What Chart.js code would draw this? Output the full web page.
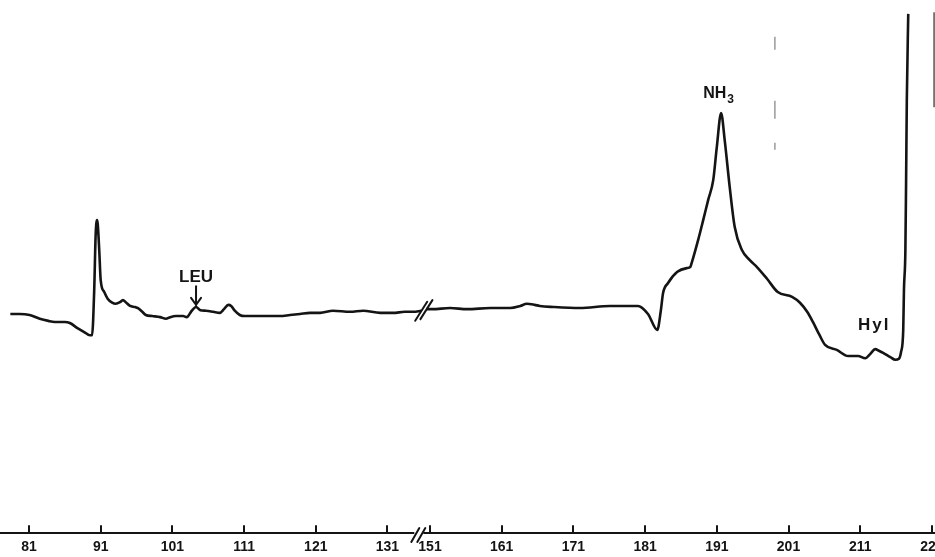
<!DOCTYPE html>
<html><head><meta charset="utf-8">
<script src="https://cdn.jsdelivr.net/npm/chart.js@4/dist/chart.umd.min.js"></script>
<style>html,body{margin:0;padding:0;background:#fff;overflow:hidden}</style>
</head><body>
<canvas id="c" width="935" height="557"></canvas>
<script>
// Tick labels (elution tube numbers) — axis broken between 131 and 151
const tickValues = [81,91,101,111,121,131,151,161,171,181,191,201,211,221];

// Left segment of the trace (tubes 78–136)
const leftX = [78.4,79.7,81.1,82.5,83.7,84.6,86.0,86.7,87.7,88.7,89.5,89.8,90.1,90.3,90.5,90.6,90.8,91.0,91.5,92.0,92.6,93.1,93.7,94.1,94.5,95.1,95.8,96.2,96.8,97.3,98.2,99.3,100.1,100.7,101.5,102.5,103.0,103.7,104.3,104.9,105.7,106.7,107.6,108.2,108.8,109.2,109.7,110.4,111.1,112.5,114.2,116.0,117.4,118.8,120.2,121.6,123.4,125.8,127.6,130.0,131.8,133.4,134.6,135.7];
const leftY = [41.1,41.1,40.9,40.2,39.8,39.6,39.6,39.4,38.5,37.7,37.1,37.1,45.6,55.9,58.7,57.8,53.1,47.5,45.2,43.9,43.2,43.0,43.3,43.7,43.3,42.6,42.4,42.2,41.5,40.9,40.7,40.5,40.2,40.5,40.7,40.7,40.5,41.7,42.4,41.8,41.7,41.5,41.3,42.0,42.8,42.6,41.7,40.9,40.7,40.7,40.7,40.7,40.9,41.1,41.3,41.3,41.7,41.5,41.7,41.3,41.3,41.5,41.5,41.7];

// Right segment of the trace (tubes 150–218)
const rightX = [150.5,151.3,153.8,156.2,159.4,162.2,163.6,164.5,165.6,166.3,168.2,171.9,176.1,178.2,180.0,181.4,182.7,183.2,183.5,184.2,185.5,186.8,187.3,187.5,188.4,189.1,189.8,190.5,191.0,191.6,192.1,192.8,193.5,194.5,195.6,196.6,198.0,199.5,201.5,202.6,203.6,204.4,205.3,206.1,207.8,209.3,210.7,211.7,212.4,213.1,213.6,214.2,215.2,215.9,216.4,216.7,217.0,217.1,217.3,217.4,217.5,217.7];
const rightY = [42.0,42.0,42.2,42.0,42.2,42.2,42.6,43.0,42.8,42.6,42.4,42.2,42.6,42.6,42.6,41.1,38.1,41.8,45.0,46.9,49.0,49.7,49.9,50.7,55.0,58.7,62.5,66.2,72.4,78.8,73.7,64.9,57.4,53.1,51.2,49.9,47.7,45.2,44.3,43.2,41.5,39.6,37.2,35.3,34.3,33.2,33.2,32.8,33.6,34.5,34.2,33.8,33.0,32.5,32.7,34.0,38.1,45.6,53.1,66.2,81.2,97.4];

// Faint recorder marks visible on the chart paper
const markDashX = [199.1,199.1];
const markDashY = [93.1,71.9];
const markEdgeX = [221.3,221.3];
const markEdgeY = [97.7,79.9];

// Peak labels
const peakNames = ['LEU','NH','Hyl'];
const peakTube  = [104.3,189.1,210.7];
const peakLevel = [47.1,81.6,38.1];

const AXIS_SHIFT = 14.07;          // width of the removed part of the axis (tubes)
const toAxis = v => v > 140 ? v - AXIS_SHIFT : v;
const pts = (xs, ys) => xs.map((x, i) => ({x: toAxis(x), y: ys[i]}));

const INK = '#141414';
const FONT = '"Liberation Sans", Arial, sans-serif';

const decor = {
  id: 'decor',
  afterDatasetsDraw(chart) {
    const {ctx, chartArea, scales: {x, y}} = chart;
    const X = v => x.getPixelForValue(toAxis(v));
    const Y = v => y.getPixelForValue(v);
    ctx.save();
    ctx.fillStyle = INK; ctx.strokeStyle = INK; ctx.lineCap = 'round';

    // break marks on the trace
    ctx.lineWidth = 2;
    const lp = chart.getDatasetMeta(0).data; const rp = chart.getDatasetMeta(1).data;
    const ends = [lp[lp.length - 1], rp[0]];
    ends.forEach(p => { ctx.beginPath(); ctx.moveTo(p.x - 6, p.y + 10); ctx.lineTo(p.x + 6, p.y - 9); ctx.stroke(); });

    // axis tick marks pointing up
    const base = chartArea.bottom;
    x.ticks.forEach(t => {
      const px = Math.round(x.getPixelForValue(t.value));
      ctx.beginPath(); ctx.moveTo(px, base); ctx.lineTo(px, base - 7); ctx.stroke();
    });

    // axis break
    const bc = x.getPixelForValue(135.3);
    ctx.fillStyle = '#fff'; ctx.fillRect(bc - 4, base - 3, 9, 6);
    ctx.fillStyle = INK;
    [bc - 3, bc + 3].forEach(c => { ctx.beginPath(); ctx.moveTo(c - 4, base + 9); ctx.lineTo(c + 4, base - 5); ctx.stroke(); });

    // LEU label + arrow
    ctx.textBaseline = 'alphabetic';
    ctx.font = 'bold 17px ' + FONT; ctx.textAlign = 'center';
    const lx = X(peakTube[0]);
    ctx.fillText(peakNames[0], lx, Y(peakLevel[0]));
    ctx.lineWidth = 2;
    const a0 = Y(46.3), a1 = Y(42.8);
    ctx.beginPath(); ctx.moveTo(lx, a0); ctx.lineTo(lx, a1); ctx.stroke();
    ctx.beginPath(); ctx.moveTo(lx - 5, a1 - 7); ctx.lineTo(lx, a1); ctx.lineTo(lx + 5, a1 - 7); ctx.stroke();

    // NH3
    ctx.textAlign = 'left';
    ctx.font = 'bold 16px ' + FONT;
    const nx = X(peakTube[1]), ny = Y(peakLevel[1]);
    ctx.fillText(peakNames[1], nx, ny);
    const w = ctx.measureText(peakNames[1]).width;
    ctx.font = 'bold 12px ' + FONT;
    ctx.fillText('3', nx + w + 1, ny + 5);

    // Hyl
    ctx.font = 'bold 17px ' + FONT;
    ctx.letterSpacing = '2px';
    ctx.fillText(peakNames[2], X(peakTube[2]), Y(peakLevel[2]));
    ctx.restore();
  }
};

new Chart(document.getElementById('c'), {
  type: 'line',
  data: {
    datasets: [
      {data: pts(leftX, leftY), borderColor: INK, borderWidth: 2.6, pointRadius: 0, cubicInterpolationMode: 'monotone', fill: false},
      {data: pts(rightX, rightY), borderColor: INK, borderWidth: 2.6, pointRadius: 0, cubicInterpolationMode: 'monotone', fill: false},
      {data: pts(markDashX, markDashY), borderColor: '#9a9a9a', borderWidth: 1.5, borderDash: [13, 51, 18, 24, 7], pointRadius: 0},
      {data: pts(markEdgeX, markEdgeY), borderColor: '#555', borderWidth: 1.5, pointRadius: 0}
    ]
  },
  options: {
    responsive: false,
    animation: false,
    devicePixelRatio: 1,
    layout: {padding: {left: 0, right: 0, top: 0, bottom: 0}},
    plugins: {legend: {display: false}, tooltip: {enabled: false}},
    scales: {
      x: {
        type: 'linear',
        min: 76.96, max: 207.36,
        grid: {display: false, drawTicks: false},
        border: {display: true, color: INK, width: 2},
        afterBuildTicks: s => { s.ticks = tickValues.map(v => ({value: toAxis(v)})); },
        afterFit: s => { s.paddingLeft = 0; s.paddingRight = 0; s.height = 24; },
        ticks: {
          autoSkip: false, maxRotation: 0, padding: 6, color: INK,
          font: {family: FONT, size: 14, weight: 'bold'},
          callback: (v, i) => String(tickValues[i])
        }
      },
      y: {type: 'linear', min: 0, max: 100, display: false}
    }
  },
  plugins: [decor]
});
</script>
</body></html>
